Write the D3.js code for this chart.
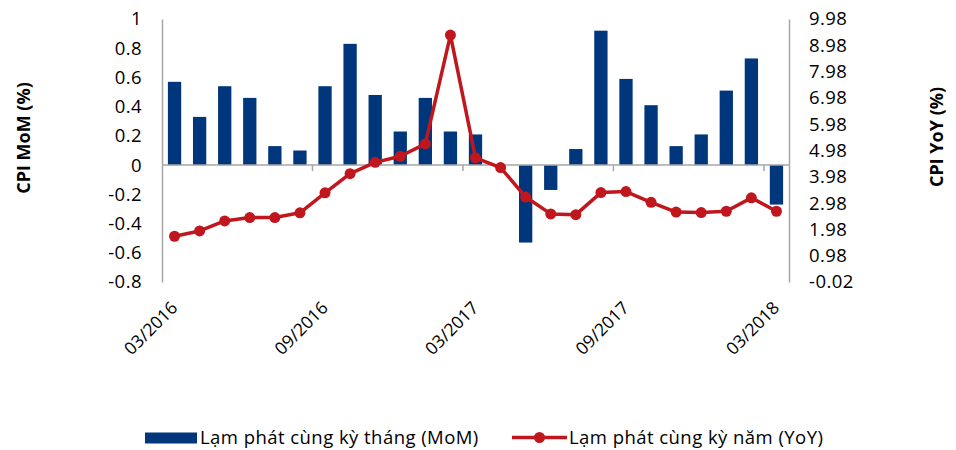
<!DOCTYPE html>
<html>
<head>
<meta charset="utf-8">
<script src="https://cdn.jsdelivr.net/npm/d3@7/dist/d3.min.js"></script>
<style>
  html, body { margin: 0; padding: 0; background: #fff; }
  svg { display: block; font-family: "Open Sans", sans-serif; }
</style>
</head>
<body>
<svg id="chart" width="956" height="450"></svg>
<script>
// Monthly CPI, 03/2016 – 03/2018
const months = [
  "03/2016","04/2016","05/2016","06/2016","07/2016","08/2016","09/2016","10/2016","11/2016","12/2016",
  "01/2017","02/2017","03/2017","04/2017","05/2017","06/2017","07/2017","08/2017","09/2017","10/2017",
  "11/2017","12/2017","01/2018","02/2018","03/2018"
];
// month-on-month change (%)
const mom = [0.57,0.33,0.54,0.46,0.13,0.10,0.54,0.83,0.48,0.23,0.46,0.23,0.21,0,-0.53,-0.17,0.11,0.92,0.59,0.41,0.13,0.21,0.51,0.73,-0.27];
// year-on-year change (%)
const yoy = [1.72,1.92,2.30,2.43,2.43,2.61,3.37,4.10,4.53,4.76,5.23,9.37,4.70,4.33,3.21,2.57,2.54,3.38,3.42,3.01,2.64,2.62,2.67,3.18,2.67];

const momTicks = [1,0.8,0.6,0.4,0.2,0,-0.2,-0.4,-0.6,-0.8];
const yoyTicks = [9.98,8.98,7.98,6.98,5.98,4.98,3.98,2.98,1.98,0.98,-0.02];
const xLabels = ["03/2016","09/2016","03/2017","09/2017","03/2018"];

const svg = d3.select("#chart");
const plotL = 162, plotR = 789, plotT = 19, plotB = 282;
const navy = "#00367B", red = "#C0171F", axisGray = "#A6A6A6";
const fs = 18.5, ls = 0.45;

const x = d3.scaleBand().domain(months).range([plotL, plotR]).paddingInner(0.47).paddingOuter(0.235);
const xb = d3.scaleBand().domain(months).range([plotL, plotR]);
const yL = d3.scaleLinear().domain([-0.8, 1]).range([plotB, plotT]);
const yR = d3.scaleLinear().domain([-0.02, 9.98]).range([plotB, plotT]);

// bars
svg.append("g").selectAll("rect").data(mom).join("rect")
  .attr("x", (d, i) => x(months[i]))
  .attr("width", x.bandwidth())
  .attr("y", d => yL(Math.max(0, d)))
  .attr("height", d => Math.abs(yL(d) - yL(0)))
  .attr("fill", navy);

// left axis
const gL = svg.append("g").attr("transform", `translate(${plotL},0)`)
  .call(d3.axisLeft(yL).tickValues(momTicks).tickSize(0).tickPadding(20).tickFormat(d => String(+d.toFixed(1))));
gL.select(".domain").attr("stroke", axisGray).attr("stroke-width", 1.5);
gL.selectAll("text").attr("font-size", fs).attr("letter-spacing", ls).attr("fill", "#000").attr("font-family", "Open Sans");

// right axis
const gR = svg.append("g").attr("transform", `translate(${plotR},0)`)
  .call(d3.axisRight(yR).tickValues(yoyTicks).tickSize(0).tickPadding(20).tickFormat(d => d.toFixed(2)));
gR.select(".domain").attr("stroke", axisGray).attr("stroke-width", 1.5);
gR.selectAll("text").attr("font-size", fs).attr("letter-spacing", ls).attr("fill", "#000").attr("font-family", "Open Sans");

// zero baseline with ticks every six months
const gX = svg.append("g").attr("transform", `translate(0,${yL(0)})`);
gX.append("line").attr("x1", plotL).attr("x2", plotR).attr("stroke", axisGray).attr("stroke-width", 1.5);
gX.selectAll("line.tk").data(months.filter((m, i) => i % 6 === 0 && i > 0)).join("line")
  .attr("class", "tk")
  .attr("x1", d => xb(d)).attr("x2", d => xb(d))
  .attr("y1", 0).attr("y2", 6)
  .attr("stroke", axisGray).attr("stroke-width", 1.5);

// rotated month labels
svg.append("g").selectAll("text").data(xLabels).join("text")
  .attr("transform", d => `translate(${xb(d) + xb.bandwidth() / 2 + 4},${309}) rotate(-45)`)
  .attr("text-anchor", "end")
  .attr("font-size", 17.5)
  .text(d => d);

// YoY line
const line = d3.line().x((d, i) => xb(months[i]) + xb.bandwidth() / 2).y(d => yR(d));
svg.append("path").datum(yoy).attr("d", line)
  .attr("fill", "none").attr("stroke", red).attr("stroke-width", 3.5).attr("stroke-linejoin", "round");
svg.append("g").selectAll("circle").data(yoy).join("circle")
  .attr("cx", (d, i) => xb(months[i]) + xb.bandwidth() / 2)
  .attr("cy", d => yR(d))
  .attr("r", 5.5)
  .attr("fill", red);

// axis titles
svg.append("text").attr("transform", `translate(30,138) rotate(-90)`)
  .attr("text-anchor", "middle").attr("font-weight", "bold").attr("font-size", 18)
  .text("CPI MoM (%)");
svg.append("text").attr("transform", `translate(942.5,137) rotate(-90)`)
  .attr("text-anchor", "middle").attr("font-weight", "bold").attr("font-size", 18)
  .text("CPI YoY (%)");

// legend
const lg = svg.append("g");
lg.append("rect").attr("x", 145).attr("y", 432.5).attr("width", 52).attr("height", 11).attr("fill", navy);
lg.append("text").attr("x", 200).attr("y", 444).attr("font-size", fs).attr("letter-spacing", ls)
  .text("Lạm phát cùng kỳ tháng (MoM)");
lg.append("line").attr("x1", 512).attr("x2", 567).attr("y1", 437.5).attr("y2", 437.5)
  .attr("stroke", red).attr("stroke-width", 3.5);
lg.append("circle").attr("cx", 539.5).attr("cy", 437.5).attr("r", 5.5).attr("fill", red);
lg.append("text").attr("x", 569).attr("y", 444).attr("font-size", fs).attr("letter-spacing", ls)
  .text("Lạm phát cùng kỳ năm (YoY)");
</script>
</body>
</html>
